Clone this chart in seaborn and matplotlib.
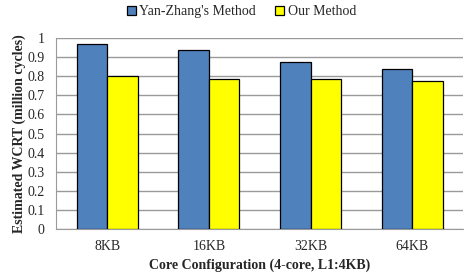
import matplotlib
matplotlib.use("Agg")
import matplotlib.pyplot as plt
import seaborn as sns
import pandas as pd
from matplotlib.ticker import MultipleLocator, FixedLocator

sns.set_style("white")
plt.rcParams['font.family'] = ['Liberation Serif', 'DejaVu Serif']

configs = ["8KB", "16KB", "32KB", "64KB"]
methods = ["Yan-Zhang's Method", "Our Method"]
yan_zhang = [0.968, 0.936, 0.877, 0.840]
ours = [0.800, 0.787, 0.786, 0.777]

df = pd.DataFrame({
    "config": configs * 2,
    "method": [methods[0]] * 4 + [methods[1]] * 4,
    "wcrt": yan_zhang + ours,
})

fig = plt.figure(figsize=(4.65, 2.78), dpi=100)
ax = fig.add_axes([0.121, 0.176, 0.875, 0.687])

sns.barplot(data=df, x="config", y="wcrt", hue="method", order=configs,
            hue_order=methods, palette=["#4F81BD", "#FFFF00"], width=0.6,
            edgecolor="black", linewidth=0.9, saturation=1, ax=ax, zorder=3)

ax.set_ylim(0, 1)
ax.set_xlim(-0.5, 3.5)
ax.yaxis.set_major_locator(MultipleLocator(0.1))
ax.set_yticklabels([f"{v:g}" for v in ax.get_yticks()])
ax.grid(axis="y", color="#9a9a9a", linewidth=1, zorder=0)
ax.xaxis.set_minor_locator(FixedLocator([0.5, 1.5, 2.5]))
ax.tick_params(axis="x", which="minor", length=3, color="#9a9a9a", direction="out")
ax.tick_params(axis="x", which="major", length=0, pad=8)
ax.tick_params(axis="y", length=3.6, color="#9a9a9a", direction="out", pad=5)
ax.tick_params(labelsize=10)

for side in ["top", "right"]:
    ax.spines[side].set_visible(False)
for side in ["left", "bottom"]:
    ax.spines[side].set_color("#9a9a9a")

ax.set_xlabel("Core Configuration (4-core, L1:4KB)", fontsize=10, fontweight="bold", labelpad=4)
ax.set_ylabel("Estimated WCRT (million cycles)", fontsize=10, fontweight="bold", labelpad=1)

handles, labels = ax.get_legend_handles_labels()
ax.legend(handles, labels, loc="center", bbox_to_anchor=(0.455, 1.137), ncol=2,
          frameon=False, fontsize=10, handlelength=0.65, handleheight=0.65,
          handletextpad=0.25, columnspacing=1.4, borderpad=0.2)

fig.savefig("out.png", dpi=100)
